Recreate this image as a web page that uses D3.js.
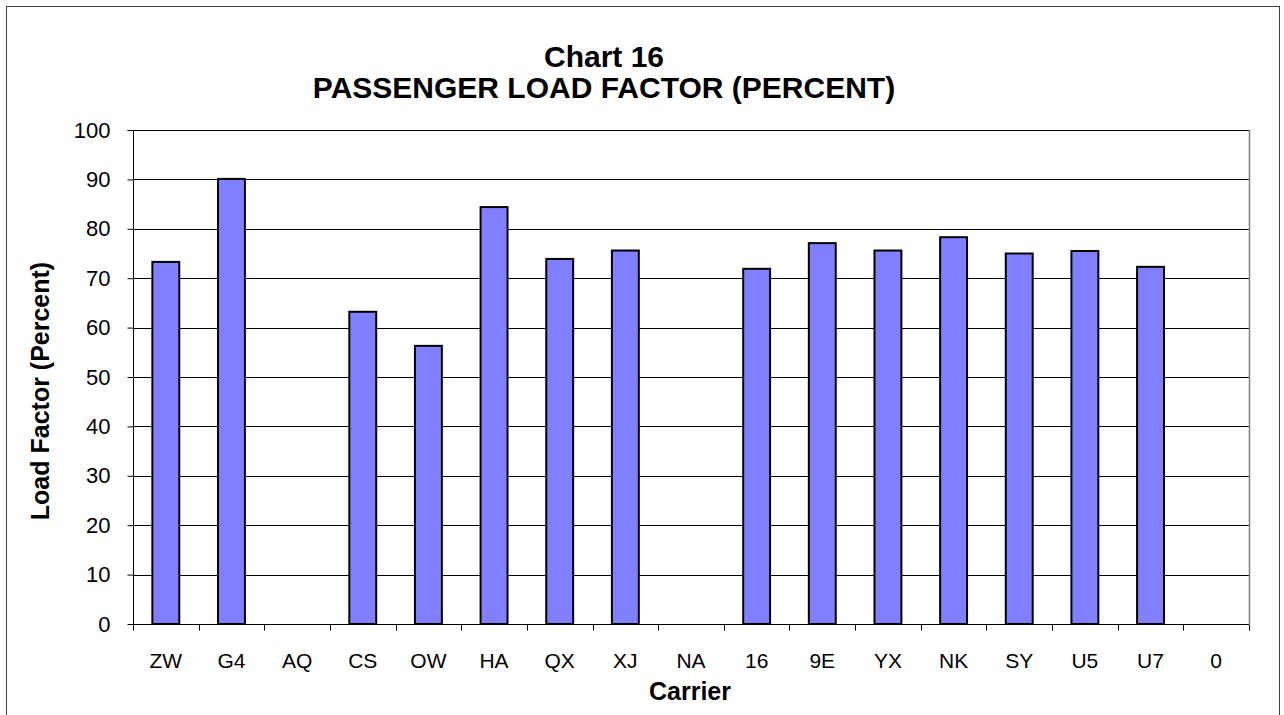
<!DOCTYPE html>
<html>
<head>
<meta charset="utf-8">
<script src="https://cdn.jsdelivr.net/npm/d3@7/dist/d3.min.js"></script>
<style>
  html, body { margin: 0; padding: 0; background: #fff; }
  svg { display: block; }
  text { font-family: "Liberation Sans", Arial, sans-serif; fill: #000; }
</style>
</head>
<body>
<svg id="chart" width="1284" height="715"></svg>
<script>
const carriers = ["ZW","G4","AQ","CS","OW","HA","QX","XJ","NA","16","9E","YX","NK","SY","U5","U7","0"];
const loadFactor = [73.3, 90.1, null, 63.2, 56.3, 84.4, 73.9, 75.6, null, 71.9, 77.1, 75.6, 78.3, 75.0, 75.5, 72.3, null];
const yTicks = [0,10,20,30,40,50,60,70,80,90,100];
const titleLines = ["Chart 16", "PASSENGER LOAD FACTOR (PERCENT)"];
const xTitle = "Carrier";
const yTitle = "Load Factor (Percent)";

const W = 1284, H = 715;
const m = {left: 133, right: 1249, top: 130, bottom: 624};
const svg = d3.select("#chart");

// outer frame
svg.append("rect").attr("x", 6.5).attr("y", 6.5).attr("width", 1273).attr("height", 740)
  .attr("fill", "none").attr("stroke", "#404040").attr("stroke-width", 1);

const x = d3.scaleBand().domain(carriers).range([m.left, m.right]).paddingInner(0).paddingOuter(0);
const y = d3.scaleLinear().domain([0, 100]).range([m.bottom, m.top]);

// gridlines
svg.append("g").selectAll("line").data(yTicks.filter(t => t > 0)).join("line")
  .attr("x1", m.left).attr("x2", m.right)
  .attr("y1", d => Math.round(y(d)) + 0.5).attr("y2", d => Math.round(y(d)) + 0.5)
  .attr("stroke", "#000").attr("stroke-width", 1);

// right border of plot
svg.append("line").attr("x1", m.right + 0.5).attr("x2", m.right + 0.5)
  .attr("y1", m.top).attr("y2", m.bottom).attr("stroke", "#808080").attr("stroke-width", 1.5);

// bars
const bw = x.bandwidth() * 0.41;
svg.append("g").selectAll("rect")
  .data(carriers.map((c, i) => ({c, v: loadFactor[i]})).filter(d => d.v != null))
  .join("rect")
  .attr("x", d => x(d.c) + (x.bandwidth() - bw) / 2)
  .attr("y", d => y(d.v))
  .attr("width", bw)
  .attr("height", d => y(0) - y(d.v))
  .attr("fill", "#8080FF").attr("stroke", "#000").attr("stroke-width", 2);

// y axis
const yAxis = d3.axisLeft(y).tickValues(yTicks).tickSize(6).tickPadding(17).tickFormat(d3.format("d"));
const gy = svg.append("g").attr("transform", `translate(${m.left + 0.5},0)`).call(yAxis);
gy.select(".domain").attr("stroke", "#000").attr("d", `M-6,${m.top + 0.5}H0V${m.bottom + 0.5}`);
gy.selectAll(".tick line").attr("stroke", "#000");
gy.selectAll(".tick text").style("font-size", "22px").style("font-family", "'Liberation Sans', Arial, sans-serif").attr("fill", "#000");

// x axis: baseline + boundary ticks
const gx = svg.append("g").attr("transform", `translate(0,${m.bottom + 0.5})`);
gx.append("line").attr("x1", m.left).attr("x2", m.right).attr("stroke", "#000");
const bounds = carriers.map(c => x(c)).concat([m.right]);
gx.selectAll("line.tk").data(bounds).join("line").attr("class", "tk")
  .attr("x1", d => Math.round(d) + 0.5).attr("x2", d => Math.round(d) + 0.5)
  .attr("y1", 0).attr("y2", 6).attr("stroke", "#000");
gx.selectAll("text").data(carriers).join("text")
  .attr("x", d => x(d) + x.bandwidth() / 2).attr("y", 43)
  .attr("text-anchor", "middle").style("font-size", "21px").text(d => d);

// titles
svg.append("text").attr("x", 604).attr("y", 67).attr("text-anchor", "middle")
  .style("font-size", "30px").style("font-weight", "bold").text(titleLines[0]);
svg.append("text").attr("x", 604).attr("y", 98).attr("text-anchor", "middle")
  .style("font-size", "30px").style("font-weight", "bold").text(titleLines[1]);

svg.append("text").attr("x", 690).attr("y", 700).attr("text-anchor", "middle")
  .style("font-size", "25px").style("font-weight", "bold").text(xTitle);
svg.append("text").attr("transform", `translate(49,391) rotate(-90)`)
  .attr("text-anchor", "middle").style("font-size", "25px").style("font-weight", "bold").text(yTitle);
</script>
</body>
</html>
